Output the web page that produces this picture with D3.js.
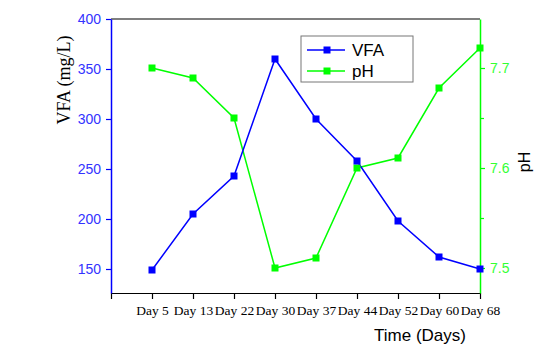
<!DOCTYPE html>
<html>
<head>
<meta charset="utf-8">
<script src="https://cdn.jsdelivr.net/npm/d3@7"></script>
<style>
  body { margin: 0; background: #fff; }
</style>
</head>
<body>
<script>
var days = ["", "Day 5", "Day 13", "Day 22", "Day 30", "Day 37", "Day 44", "Day 52", "Day 60", "Day 68"];
var vfa = [149, 205, 243, 360, 300, 258, 198, 162, 150];
var ph = [7.70, 7.69, 7.65, 7.50, 7.51, 7.60, 7.61, 7.68, 7.72];
var vfaTicks = [150, 200, 250, 300, 350, 400];
var phTicks = [7.5, 7.55, 7.6, 7.65, 7.7];

var blue = "#0000ff", green = "#00ff00";
var plotL = 111, plotR = 480, plotT = 19, plotB = 293;

var svg = d3.select("body").append("svg")
  .attr("width", 553).attr("height", 352);

var x = d3.scalePoint().domain(days).range([plotL, plotR]).padding(0);
var y = d3.scaleLinear().domain([126, 400]).range([plotB, plotT]);
var y2 = d3.scaleLinear().domain([7.475, 7.749]).range([plotB, plotT]);

// top frame line
svg.append("line").attr("x1", plotL).attr("x2", plotR).attr("y1", plotT).attr("y2", plotT)
  .attr("stroke", "#000").attr("stroke-width", 1.2);

// bottom axis
var gx = svg.append("g").attr("transform", "translate(0," + plotB + ")")
  .call(d3.axisBottom(x).tickSize(6).tickPadding(6).tickSizeOuter(0));
gx.select(".domain").attr("stroke", "#000").attr("stroke-width", 1.2);
gx.selectAll(".tick line").attr("stroke", "#000").attr("stroke-width", 1.2);
gx.selectAll("text").attr("font-family", "Liberation Serif, Times New Roman, serif")
  .attr("font-size", 13.5).attr("fill", "#000");

// left axis
var gy = svg.append("g").attr("transform", "translate(" + plotL + ",0)")
  .call(d3.axisLeft(y).tickValues(vfaTicks).tickSize(5).tickPadding(5).tickSizeOuter(0));
gy.select(".domain").attr("stroke", blue).attr("stroke-width", 1.5);
gy.selectAll(".tick line").attr("stroke", blue).attr("stroke-width", 1.2);
gy.selectAll("text").attr("font-family", "Liberation Sans, Arial, sans-serif")
  .attr("font-size", 14).attr("fill", "#3333ff");

// right axis
var gy2 = svg.append("g").attr("transform", "translate(" + plotR + ",0)")
  .call(d3.axisRight(y2).tickValues(phTicks).tickSize(5).tickPadding(5).tickSizeOuter(0)
    .tickFormat(function(d) { return [7.5, 7.6, 7.7].some(function(v) { return Math.abs(v - d) < 1e-6; }) ? d3.format(".1f")(d) : ""; }));
gy2.select(".domain").attr("stroke", green).attr("stroke-width", 1.5);
gy2.selectAll(".tick line").attr("stroke", green).attr("stroke-width", 1.2)
  .attr("x2", function(d) { return [7.55, 7.65].some(function(v) { return Math.abs(v - d) < 1e-6; }) ? 4 : 5; });
gy2.selectAll("text").attr("font-family", "Liberation Sans, Arial, sans-serif")
  .attr("font-size", 14).attr("fill", "#33ff33");

// lines
var lineV = d3.line().x(function(d, i) { return x(days[i + 1]); }).y(function(d) { return y(d); });
var lineP = d3.line().x(function(d, i) { return x(days[i + 1]); }).y(function(d) { return y2(d); });

svg.append("path").datum(ph).attr("d", lineP).attr("fill", "none")
  .attr("stroke", green).attr("stroke-width", 1.5);
svg.append("path").datum(vfa).attr("d", lineV).attr("fill", "none")
  .attr("stroke", blue).attr("stroke-width", 1.5);

svg.selectAll(".mp").data(ph).enter().append("rect")
  .attr("x", function(d, i) { return x(days[i + 1]) - 3.5; })
  .attr("y", function(d) { return y2(d) - 3.5; })
  .attr("width", 7).attr("height", 7).attr("fill", green);
svg.selectAll(".mv").data(vfa).enter().append("rect")
  .attr("x", function(d, i) { return x(days[i + 1]) - 3.5; })
  .attr("y", function(d) { return y(d) - 3.5; })
  .attr("width", 7).attr("height", 7).attr("fill", blue);

// axis titles
svg.append("text").attr("transform", "translate(70,80) rotate(-90)")
  .attr("text-anchor", "middle")
  .attr("font-family", "Liberation Serif, Times New Roman, serif")
  .attr("font-size", 18).attr("fill", "#000").text("VFA (mg/L)");
svg.append("text").attr("transform", "translate(530,162) rotate(-90)")
  .attr("text-anchor", "middle")
  .attr("font-family", "Liberation Sans, Arial, sans-serif")
  .attr("font-size", 16).attr("fill", "#000").text("pH");
svg.append("text").attr("x", 420).attr("y", 341)
  .attr("text-anchor", "middle")
  .attr("font-family", "Liberation Sans, Arial, sans-serif")
  .attr("font-size", 17).attr("fill", "#000").text("Time (Days)");

// legend
var lg = svg.append("g");
lg.append("rect").attr("x", 301).attr("y", 36).attr("width", 112).attr("height", 46)
  .attr("fill", "#fff").attr("stroke", "#777").attr("stroke-width", 1);
var items = [{ name: "VFA", color: blue }, { name: "pH", color: green }];
items.forEach(function(it, i) {
  var cy = 50 + i * 21;
  lg.append("line").attr("x1", 307).attr("x2", 345).attr("y1", cy).attr("y2", cy)
    .attr("stroke", it.color).attr("stroke-width", 1.5);
  lg.append("rect").attr("x", 323.5).attr("y", cy - 3.5).attr("width", 7).attr("height", 7)
    .attr("fill", it.color);
  lg.append("text").attr("x", 352).attr("y", cy + 6)
    .attr("font-family", "Liberation Sans, Arial, sans-serif")
    .attr("font-size", 17).attr("fill", "#000").text(it.name);
});
</script>
</body>
</html>
